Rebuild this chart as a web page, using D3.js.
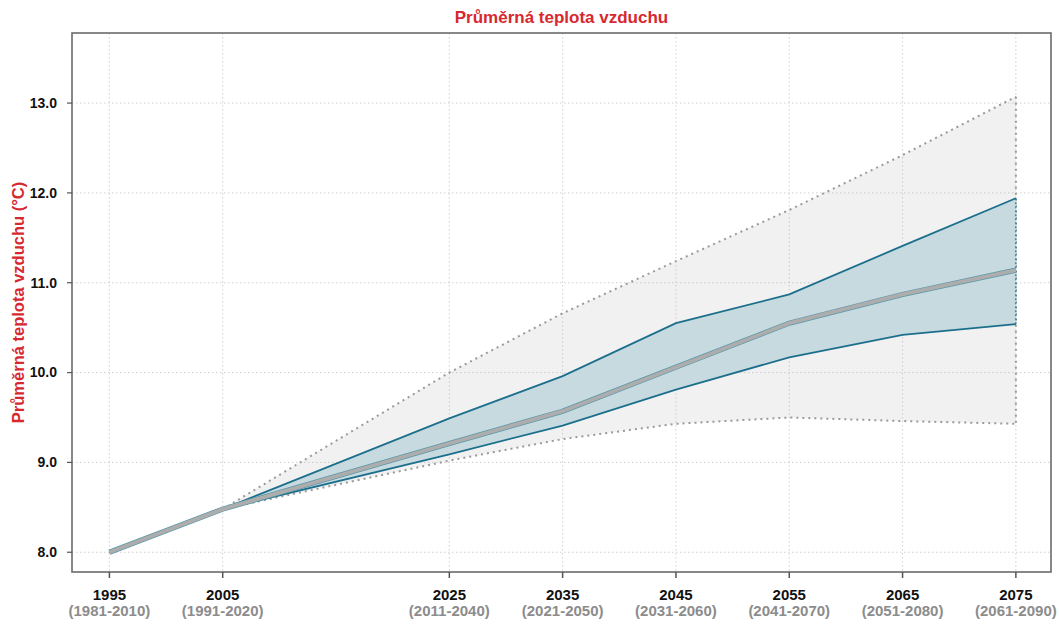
<!DOCTYPE html>
<html>
<head>
<meta charset="utf-8">
<script src="https://cdn.jsdelivr.net/npm/d3@7"></script>
<style>
  body { margin: 0; background: #fff; }
  text { font-family: "Liberation Sans", Arial, sans-serif; }
</style>
</head>
<body>
<div id="chart"></div>
<script>
// data
const years = [1995, 2005, 2025, 2035, 2045, 2055, 2065, 2075];
const periods = ["(1981-2010)", "(1991-2020)", "(2011-2040)", "(2021-2050)",
                 "(2031-2060)", "(2041-2070)", "(2051-2080)", "(2061-2090)"];
const meanVals  = [8.00, 8.48, 9.21, 9.57, 10.06, 10.55, 10.87, 11.14];
const upperVals = [8.00, 8.48, 9.49, 9.96, 10.55, 10.87, 11.41, 11.94];
const lowerVals = [8.00, 8.48, 9.09, 9.41, 9.81, 10.17, 10.42, 10.54];
const maxVals   = [null, 8.48, 10.00, 10.66, 11.24, 11.81, 12.42, 13.07];
const minVals   = [null, 8.48, 9.02, 9.26, 9.43, 9.50, 9.46, 9.43];
const yTicks = [8, 9, 10, 11, 12, 13];

const width = 1059, height = 624;
const margin = {top: 33, right: 8, bottom: 52, left: 72};

const svg = d3.select("#chart").append("svg")
    .attr("width", width)
    .attr("height", height);

const x = d3.scaleLinear()
    .domain([1991.7, 2078.1])
    .range([margin.left, width - margin.right]);

const y = d3.scaleLinear()
    .domain([7.78, 13.78])
    .range([height - margin.bottom, margin.top]);

const pts = years.map((yr, i) => ({
    yr, mean: meanVals[i], up: upperVals[i], lo: lowerVals[i], mx: maxVals[i], mn: minVals[i]
}));
const envPts = pts.filter(d => d.mx !== null);

// --- grid ---
const grid = svg.append("g");
grid.selectAll("line.hg")
    .data(yTicks)
    .join("line")
    .attr("x1", margin.left).attr("x2", width - margin.right)
    .attr("y1", d => y(d)).attr("y2", d => y(d))
    .attr("stroke", "#cfcfcf").attr("stroke-width", 1)
    .attr("stroke-dasharray", "1.5,2.5");
grid.selectAll("line.vg")
    .data(years)
    .join("line")
    .attr("x1", d => x(d)).attr("x2", d => x(d))
    .attr("y1", margin.top).attr("y2", height - margin.bottom)
    .attr("stroke", "#cfcfcf").attr("stroke-width", 1)
    .attr("stroke-dasharray", "1.5,2.5");

// --- envelope (min/max) ---
svg.append("path")
    .datum(envPts)
    .attr("d", d3.area().x(d => x(d.yr)).y0(d => y(d.mn)).y1(d => y(d.mx)))
    .attr("fill", "#bdbdbd").attr("fill-opacity", 0.22);

const line = (acc) => d3.line().x(d => x(d.yr)).y(acc);
svg.append("path").datum(envPts).attr("d", line(d => y(d.mx)))
    .attr("fill", "none").attr("stroke", "#9a9a9a").attr("stroke-width", 2)
    .attr("stroke-dasharray", "2,4");
svg.append("path").datum(envPts).attr("d", line(d => y(d.mn)))
    .attr("fill", "none").attr("stroke", "#9a9a9a").attr("stroke-width", 2)
    .attr("stroke-dasharray", "2,4");
const last = pts[pts.length - 1];
svg.append("line")
    .attr("x1", x(last.yr)).attr("x2", x(last.yr))
    .attr("y1", y(last.mx)).attr("y2", y(last.mn))
    .attr("stroke", "#9a9a9a").attr("stroke-width", 2)
    .attr("stroke-dasharray", "2,4");

// --- inner band ---
svg.append("path")
    .datum(pts)
    .attr("d", d3.area().x(d => x(d.yr)).y0(d => y(d.lo)).y1(d => y(d.up)))
    .attr("fill", "#c7dadf");
svg.append("line")
    .attr("x1", x(last.yr)).attr("x2", x(last.yr))
    .attr("y1", y(last.up)).attr("y2", y(last.lo))
    .attr("stroke", "#2f7f98").attr("stroke-width", 1.5)
    .attr("stroke-dasharray", "2,2");

const teal = "#1c6f8c";
[d => y(d.up), d => y(d.lo)].forEach(acc => {
    svg.append("path").datum(pts).attr("d", line(acc))
        .attr("fill", "none").attr("stroke", teal).attr("stroke-width", 1.8);
});

// --- mean line: thin teal outline with light gray core ---
svg.append("path").datum(pts).attr("d", line(d => y(d.mean)))
    .attr("fill", "none").attr("stroke", "#5a97a9").attr("stroke-width", 5.2);
svg.append("path").datum(pts).attr("d", line(d => y(d.mean)))
    .attr("fill", "none").attr("stroke", "#adadad").attr("stroke-width", 3.8);

// --- frame ---
svg.append("rect")
    .attr("x", margin.left).attr("y", margin.top)
    .attr("width", width - margin.left - margin.right)
    .attr("height", height - margin.bottom - margin.top)
    .attr("fill", "none").attr("stroke", "#6b6b6b").attr("stroke-width", 1.6);

// --- y axis ---
const ya = svg.append("g");
ya.selectAll("line")
    .data(yTicks)
    .join("line")
    .attr("x1", margin.left - 5).attr("x2", margin.left)
    .attr("y1", d => y(d)).attr("y2", d => y(d))
    .attr("stroke", "#555").attr("stroke-width", 1.2);
ya.selectAll("text")
    .data(yTicks)
    .join("text")
    .attr("x", 57).attr("y", d => y(d))
    .attr("dy", "0.35em")
    .attr("text-anchor", "end")
    .attr("font-size", 14).attr("font-weight", "bold").attr("fill", "#111")
    .text(d => d.toFixed(1));

// --- x axis ---
const xa = svg.append("g");
xa.selectAll("line")
    .data(years)
    .join("line")
    .attr("x1", d => x(d)).attr("x2", d => x(d))
    .attr("y1", height - margin.bottom).attr("y2", height - margin.bottom + 6)
    .attr("stroke", "#555").attr("stroke-width", 1.5);
xa.selectAll("text.yr")
    .data(years)
    .join("text")
    .attr("class", "yr")
    .attr("x", d => x(d)).attr("y", 600)
    .attr("text-anchor", "middle")
    .attr("font-size", 15).attr("font-weight", "bold").attr("fill", "#111")
    .text(d => d);
xa.selectAll("text.per")
    .data(years)
    .join("text")
    .attr("class", "per")
    .attr("x", d => x(d)).attr("y", 616)
    .attr("text-anchor", "middle")
    .attr("font-size", 15).attr("font-weight", "bold").attr("fill", "#8c8c8c")
    .text((d, i) => periods[i]);

// --- titles ---
svg.append("text")
    .attr("x", (margin.left + width - margin.right) / 2).attr("y", 23)
    .attr("text-anchor", "middle")
    .attr("font-size", 17).attr("font-weight", "bold").attr("fill", "#d7282f")
    .text("Průměrná teplota vzduchu");

svg.append("text")
    .attr("transform", `translate(24,${(margin.top + height - margin.bottom) / 2}) rotate(-90)`)
    .attr("text-anchor", "middle")
    .attr("font-size", 16.5).attr("font-weight", "bold").attr("fill", "#d7282f")
    .text("Průměrná teplota vzduchu (°C)");
</script>
</body>
</html>
